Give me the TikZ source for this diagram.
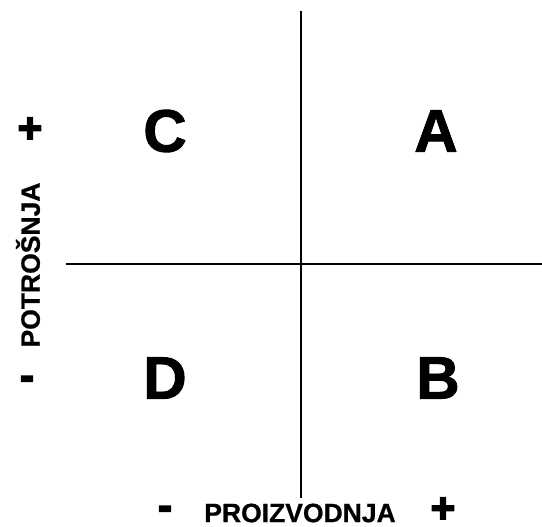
\documentclass[tikz,border=0pt]{standalone}
\usepackage{fontspec}
\setmainfont{Liberation Sans}
\newfontfamily\signfont[FakeBold=4]{Liberation Sans}
\newfontfamily\quadfont[FakeBold=1.5]{Liberation Sans}
\newfontfamily\labelfont[FakeBold=0.8]{Liberation Sans}
\usetikzlibrary{positioning}

\begin{document}
\begin{tikzpicture}[x=1pt,y=-1pt,
quad/.style={font=\quadfont\bfseries\fontsize{60}{60}\selectfont},
axislabel/.style={font=\labelfont\bfseries\fontsize{26.5}{26.5}\selectfont,inner sep=0pt},
sign/.style={font=\signfont\bfseries\fontsize{42}{42}\selectfont,inner sep=0pt},
axis/.style={line width=2pt}]
\useasboundingbox (0,0) rectangle (542,527);
% axes
\coordinate (top) at (301,11);
\coordinate (bottom) at (301,498);
\coordinate (left) at (66,264);
\coordinate (right) at (542,264);
\draw[axis] (top) -- (bottom);
\draw[axis] (left) -- (right);
% quadrants
\node[quad] (C) at (165,131) {C};
\node[quad] (A) at (436,131) {A};
\node[quad] (D) at (165,378) {D};
\node[quad] (B) at (438,378) {B};
% vertical axis label
\node[axislabel,rotate=90] (potr) at (28,265) {POTROŠNJA};
\node[sign] (vplus) at (30,130) {+};
\node[sign] (vminus) at (27,383) {-};
% horizontal axis label
\node[axislabel] (proiz) at (300,513) {PROIZVODNJA};
\node[sign] (hminus) at (165,513) {-};
\node[sign] (hplus) at (443,510) {+};
\end{tikzpicture}
\end{document}
